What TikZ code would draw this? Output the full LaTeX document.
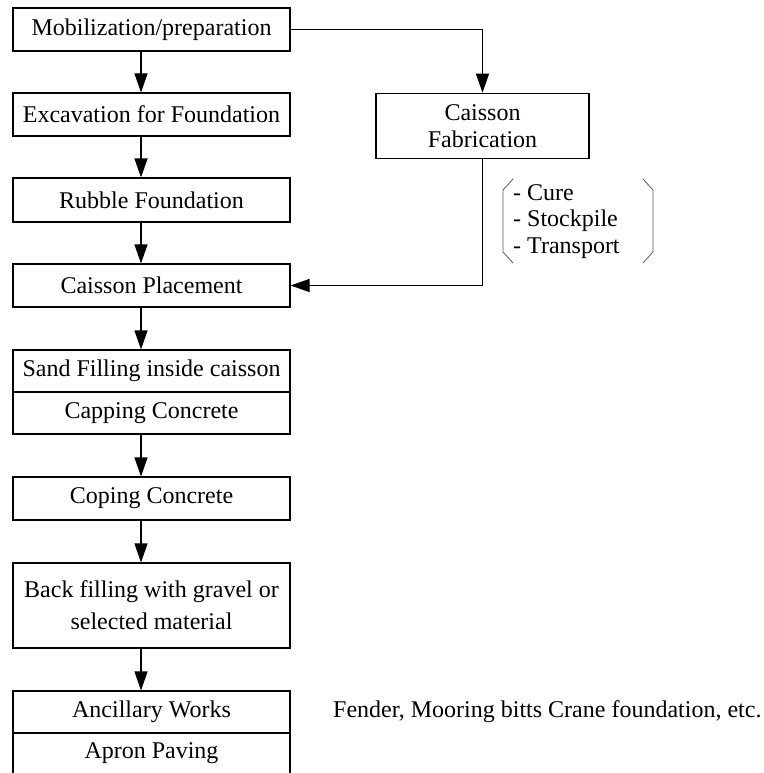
\documentclass[tikz,border=0pt]{standalone}
\usepackage{fontspec}
\setmainfont{Liberation Serif}
\usetikzlibrary{arrows.meta}
\begin{document}
\begin{tikzpicture}[x=1pt,y=-1pt,
  box/.style={draw, line width=1.1pt, rectangle, inner sep=0pt, minimum width=277pt, align=center, font=\fontsize{24}{32}\selectfont},
  plain/.style={inner sep=0pt, align=center, font=\fontsize{24}{27}\selectfont},
  arr/.style={line width=1.1pt, -{Triangle[length=19pt,width=13pt]}},
  conn/.style={line width=1.1pt}]
\useasboundingbox (0,0) rectangle (763,773);
\coordinate (ax) at (141,0);
\node[box, minimum height=43pt] (mob) at (151.5,29.5) {Mobilization/preparation};
\node[box, minimum height=43pt] (exc) at (151.5,114.5) {Excavation for Foundation};
\node[box, minimum height=44pt] (rub) at (151.5,200) {Rubble Foundation};
\node[box, minimum height=43pt] (pla) at (151.5,285.5) {Caisson Placement};
\node[box, minimum height=42pt] (sand) at (151.5,371) {Sand Filling inside caisson};
\node[box, minimum height=42pt] (cap) at (151.5,413) {Capping Concrete};
\node[box, minimum height=43pt] (cop) at (151.5,498.5) {Coping Concrete};
\node[box, minimum height=85pt] (back) at (151.5,605.5) {Back filling with gravel or\\selected material};
\node[box, minimum height=42pt] (anc) at (151.5,712) {Ancillary Works};
\node[plain] (apron) at (151.5,753) {Apron Paving};
\coordinate (apl) at (13,733);
\coordinate (apr) at (290,733);
\coordinate (apl2) at (13,775);
\coordinate (apr2) at (290,775);
\draw[conn] (apl) -- (apl2) (apr) -- (apr2);
\node[box, minimum width=213pt, minimum height=65pt, font=\fontsize{24}{27}\selectfont] (fab) at (482.5,125.75) {Caisson\\Fabrication};
\node[plain, anchor=west, align=left] (fender) at (333,712) {Fender, Mooring bitts Crane foundation, etc.};
\node[plain, anchor=west, align=left, font=\fontsize{24}{26.5}\selectfont] (list) at (513,221.5) {- Cure\\- Stockpile\\- Transport};
% brackets
\draw[line width=0.8pt, gray!70!black] (513,179) -- (503,190) -- (503,252) -- (513,263);
\draw[line width=0.8pt, gray!70!black] (643,179) -- (653,190) -- (653,252) -- (643,263);
% arrows
\draw[arr] (mob.south -| ax) -- (exc.north -| ax);
\draw[arr] (exc.south -| ax) -- (rub.north -| ax);
\draw[arr] (rub.south -| ax) -- (pla.north -| ax);
\draw[arr] (pla.south -| ax) -- (sand.north -| ax);
\draw[arr] (cap.south -| ax) -- (cop.north -| ax);
\draw[arr] (cop.south -| ax) -- (back.north -| ax);
\draw[arr] (back.south -| ax) -- (anc.north -| ax);
\draw[arr] (mob.east) -| (fab.north);
\draw[arr] (fab.south) |- (pla.east);
\end{tikzpicture}
\end{document}
